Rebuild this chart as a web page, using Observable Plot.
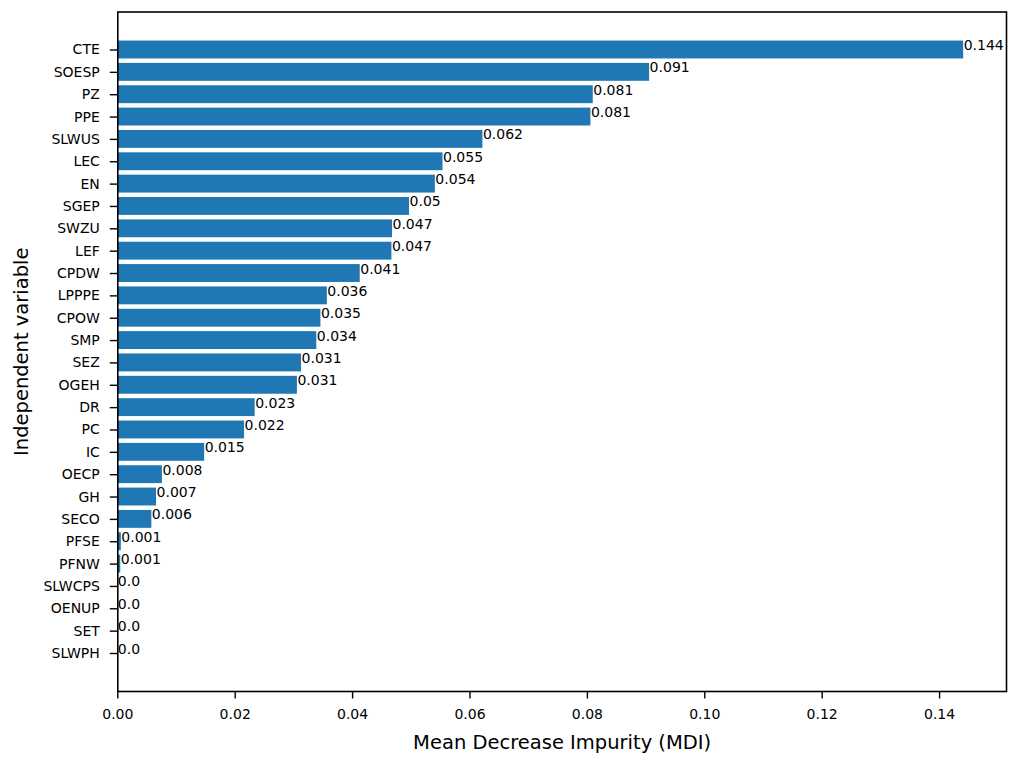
<!DOCTYPE html>
<html>
<head>
<meta charset="utf-8">
<script src="https://cdn.jsdelivr.net/npm/d3@7"></script>
<script src="https://cdn.jsdelivr.net/npm/@observablehq/plot@0.6"></script>
<style>
  html, body { margin: 0; padding: 0; background: #fff; }
  #chart { width: 1036px; height: 767px; }
</style>
</head>
<body>
<div id="chart"></div>
<script>
const categories = ["CTE","SOESP","PZ","PPE","SLWUS","LEC","EN","SGEP","SWZU","LEF","CPDW","LPPPE","CPOW","SMP","SEZ","OGEH","DR","PC","IC","OECP","GH","SECO","PFSE","PFNW","SLWCPS","OENUP","SET","SLWPH"];
const mdiValues = [0.1441,0.0906,0.0810,0.0806,0.0622,0.0554,0.0541,0.0497,0.0468,0.0467,0.0413,0.0357,0.0346,0.0339,0.0313,0.0306,0.0234,0.0216,0.0148,0.0076,0.0066,0.0058,0.0006,0.0005,0,0,0,0];
const valueLabels = ["0.144","0.091","0.081","0.081","0.062","0.055","0.054","0.05","0.047","0.047","0.041","0.036","0.035","0.034","0.031","0.031","0.023","0.022","0.015","0.008","0.007","0.006","0.001","0.001","0.0","0.0","0.0","0.0"];
const xTicks = [0,0.02,0.04,0.06,0.08,0.10,0.12,0.14];
const xLabel = "Mean Decrease Impurity (MDI)";
const yLabel = "Independent variable";

const data = categories.map((c, i) => ({cat: c, value: mdiValues[i], label: valueLabels[i]}));

const chart = Plot.plot({
  width: 1036,
  height: 767,
  marginLeft: 117.3,
  marginRight: 30,
  marginTop: 11.5,
  marginBottom: 76,
  style: {fontFamily: "DejaVu Sans", fontSize: "14px", color: "#000", background: "#fff"},
  x: {domain: [0, 0.1514], ticks: xTicks},
  y: {domain: categories, paddingInner: 0.2, paddingOuter: 1.3, round: false},
  marks: [
    Plot.barX(data, {x: "value", y: "cat", fill: "#1f77b4"}),
    Plot.text(data, {x: "value", y: "cat", text: "label", textAnchor: "start", lineAnchor: "bottom", fontSize: 14, fill: "#000"}),
    Plot.axisX({ticks: xTicks, tickFormat: d3.format(".2f"), tickSize: 7.5, tickPadding: 10, label: null, stroke: "#000", strokeWidth: 1.4, fontSize: 14, fill: "#000"}),
    Plot.axisY({tickSize: 7.5, tickPadding: 10.5, label: null, stroke: "#000", strokeWidth: 1.4, fontSize: 14, fill: "#000"}),
    Plot.frame({stroke: "#000", strokeWidth: 1.6}),
    Plot.text([xLabel], {frameAnchor: "bottom", text: d => d, textAnchor: "middle", lineAnchor: "bottom", dy: 57, fontSize: 19.5, fill: "#000"}),
    Plot.text([yLabel], {frameAnchor: "left", text: d => d, textAnchor: "middle", rotate: -90, lineAnchor: "middle", dx: -96, fontSize: 19.5, fill: "#000"})
  ]
});
document.getElementById("chart").appendChild(chart);
</script>
</body>
</html>
